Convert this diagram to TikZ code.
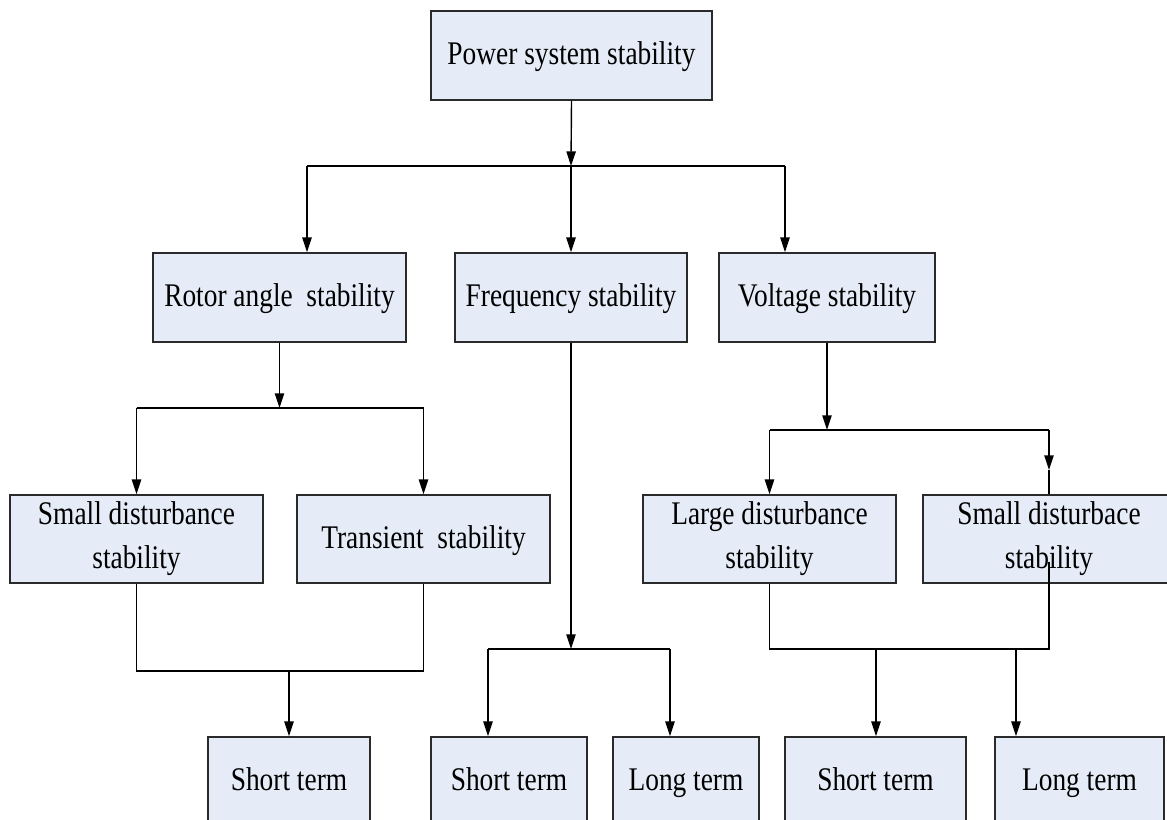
\documentclass[tikz,border=0pt]{standalone}
\usepackage{fontspec}
\setmainfont{Liberation Serif}[FakeStretch=0.83]
\usetikzlibrary{arrows.meta,calc}
\definecolor{boxfill}{HTML}{E5ECF7}
\definecolor{boxline}{HTML}{2A2A2A}
\tikzset{
  stabbox/.style={draw=boxline, fill=boxfill, line width=1.3pt, inner sep=0pt,
    align=center, minimum height=#1*0.75pt,
    font=\fontsize{24.75pt}{33pt}\selectfont},
  stabbox/.default=89,
  oneline/.style={text height=17pt, text depth=3pt},
  wire/.style={line width=1.05pt, draw=black},
  arr/.style={wire, -{Triangle[length=11pt,width=7pt]}}
}
\begin{document}
\begin{tikzpicture}[x=0.75pt,y=-0.75pt]
\useasboundingbox (0,0) rectangle (1167,819);
\clip (0,0) rectangle (1167,819);

% top level
\node[stabbox, oneline, minimum width=281*0.75pt] (root) at (571.5,55.5) {Power system stability};

% second level
\node[stabbox, oneline, minimum width=253*0.75pt] (rotor) at (279.5,297.5) {Rotor angle~~stability};
\node[stabbox, oneline, minimum width=232*0.75pt] (freq)  at (571,297.5)   {Frequency stability};
\node[stabbox, oneline, minimum width=216*0.75pt] (volt)  at (827,297.5)   {Voltage stability};

% third level
\node[stabbox=88, minimum width=253*0.75pt] (sdA) at (136.5,539) {Small disturbance\\stability};
\node[stabbox=88, oneline, minimum width=253*0.75pt] (tran) at (423.5,539) {Transient~~stability};
\node[stabbox=88, minimum width=253*0.75pt] (ldV) at (769.5,539) {Large disturbance\\stability};
\node[stabbox=88, minimum width=252*0.75pt] (sdV) at (1049,539) {Small disturbace\\stability};

% time frames
\node[stabbox, oneline, minimum width=162*0.75pt] (stA) at (289,781.5)   {Short term};
\node[stabbox, oneline, minimum width=156*0.75pt] (stF) at (509,781.5)   {Short term};
\node[stabbox, oneline, minimum width=146*0.75pt] (ltF) at (686,781.5)   {Long term};
\node[stabbox, oneline, minimum width=181*0.75pt] (stV) at (875.5,781.5) {Short term};
\node[stabbox, oneline, minimum width=169*0.75pt] (ltV) at (1079.5,781.5){Long term};

% junction points
\coordinate (j0) at (571,166);
\coordinate (j0l) at (307,166);
\coordinate (j0r) at (785,166);
\coordinate (j1) at (rotor.south |- 0,408);
\coordinate (j2) at (0,671);
\coordinate (j3) at (freq.south |- 0,649);
\coordinate (j3l) at (488,649);
\coordinate (j3r) at (670,649);
\coordinate (j4) at (volt.south |- 0,430);
\coordinate (j5) at (0,649);
\coordinate (j5a) at (876,649);
\coordinate (j5b) at (1016,649);
\coordinate (kV) at (1049,470);
\coordinate (mV) at (1049,562);

% root to second level
\draw[arr] (root.south) -- (j0);
\draw[wire] (j0l) -- (j0r);
\draw[arr] (j0l) -- (j0l |- rotor.north);
\draw[arr] (j0) -- (freq.north);
\draw[arr] (j0r) -- (j0r |- volt.north);

% rotor angle branch
\draw[arr] (rotor.south) -- (j1);
\draw[wire] (sdA.north |- j1) -- (tran.north |- j1);
\draw[arr] (sdA.north |- j1) -- (sdA.north);
\draw[arr] (tran.north |- j1) -- (tran.north);
\draw[wire] (sdA.south) -- (sdA.south |- j2) -- (tran.south |- j2) -- (tran.south);
\draw[arr] (stA.north |- j2) -- (stA.north);

% frequency branch
\draw[arr] (freq.south) -- (j3);
\draw[wire] (j3l) -- (j3r);
\draw[arr] (j3l) -- (j3l |- stF.north);
\draw[arr] (j3r) -- (j3r |- ltF.north);

% voltage branch
\draw[arr] (volt.south) -- (j4);
\draw[wire] (ldV.north |- j4) -- (sdV.north |- j4);
\draw[arr] (ldV.north |- j4) -- (ldV.north);
\draw[arr] (sdV.north |- j4) -- (kV);
\draw[wire] (kV) -- (sdV.north);
\draw[wire] (ldV.south) -- (ldV.south |- j5) -- (mV |- j5) -- (mV);
\draw[arr] (j5a) -- (j5a |- stV.north);
\draw[arr] (j5b) -- (j5b |- ltV.north);
\end{tikzpicture}
\end{document}
